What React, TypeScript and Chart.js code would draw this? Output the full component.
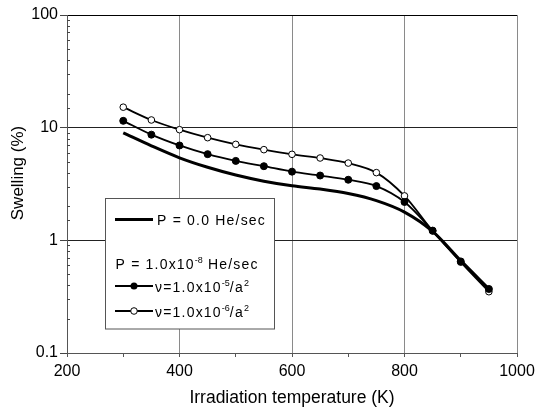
import React, { useEffect, useRef } from 'react';
import { Chart, registerables } from 'chart.js';

Chart.register(...registerables);

// ---------- data ----------
const temperatures = [300, 350, 400, 450, 500, 550, 600, 650, 700, 750, 800, 850, 900, 950];
const swellingP0 = [9.0, 6.9, 5.4, 4.45, 3.8, 3.35, 3.05, 2.85, 2.6, 2.25, 1.78, 1.2, 0.66, 0.37];
const swellingNu5 = [11.5, 8.67, 6.95, 5.82, 5.07, 4.55, 4.07, 3.76, 3.45, 3.03, 2.19, 1.22, 0.65, 0.37];
const swellingNu6 = [15.2, 11.7, 9.6, 8.15, 7.11, 6.38, 5.8, 5.38, 4.85, 3.99, 2.48, 1.21, 0.64, 0.35];
const xTickLabels = [200, 400, 600, 800, 1000];
const yTickLabels = [0.1, 1, 10, 100];
const xGridValues = [400, 600, 800, 1000];
const yGridValues = [1, 10];
const xTitle = 'Irradiation temperature (K)';
const yTitle = 'Swelling (%)';
const legendP0 = [['P = 0.0 He/sec', false]];
const legendP8 = [['P = 1.0x10', false], ['-8', true], [' He/sec', false]];
const legendNu5 = [['\u03BD=1.0x10', false], ['-5', true], ['/a', false], ['2', true]];
const legendNu6 = [['\u03BD=1.0x10', false], ['-6', true], ['/a', false], ['2', true]];

const FONT = '"Liberation Sans", Arial, Helvetica, sans-serif';

const near = (a: number, b: number) => Math.abs(a - b) < 1e-9 * Math.max(1, Math.abs(b));
const isDecade = (v: number) => yTickLabels.some((d) => near(v, d));
const fmtY = (v: number) => (v >= 1 ? String(Math.round(v)) : v.toFixed(1));

function drawRich(ctx: CanvasRenderingContext2D, x: number, baseline: number, segs: any[]) {
  let cx = x;
  for (const [text, sup] of segs) {
    ctx.font = sup ? `9px ${FONT}` : `14px ${FONT}`;
    (ctx as any).letterSpacing = sup ? '0px' : '1.2px';
    ctx.fillText(text, cx, sup ? baseline - 6 : baseline);
    cx += ctx.measureText(text).width;
  }
  (ctx as any).letterSpacing = '0px';
}

const overlayPlugin = {
  id: 'overlay',
  afterDatasetsDraw(chart: any) {
    const ctx: CanvasRenderingContext2D = chart.ctx;
    const ys = chart.scales.y;
    ctx.save();
    ctx.strokeStyle = '#444';
    ctx.lineWidth = 1;
    for (const t of ys.ticks) {
      if (isDecade(t.value)) continue;
      const py = Math.round(ys.getPixelForValue(t.value)) + 0.5;
      ctx.beginPath();
      ctx.moveTo(ys.right, py);
      ctx.lineTo(ys.right + 3, py);
      ctx.stroke();
    }
    ctx.restore();
  },
  afterDraw(chart: any) {
    const ctx: CanvasRenderingContext2D = chart.ctx;
    ctx.save();
    // y axis title
    ctx.fillStyle = '#000';
    ctx.font = `17px ${FONT}`;
    ctx.textAlign = 'center';
    ctx.textBaseline = 'middle';
    ctx.translate(18, 173);
    ctx.rotate(-Math.PI / 2);
    ctx.fillText(yTitle, 0, 0);
    ctx.restore();

    // legend box
    ctx.save();
    ctx.fillStyle = '#fff';
    ctx.fillRect(105.5, 198.5, 169, 130.5);
    ctx.strokeStyle = '#555';
    ctx.lineWidth = 1;
    ctx.strokeRect(105.5, 198.5, 169, 130.5);

    ctx.strokeStyle = '#000';
    // row 1
    ctx.lineWidth = 3;
    ctx.beginPath();
    ctx.moveTo(115, 219.5);
    ctx.lineTo(153, 219.5);
    ctx.stroke();
    // row 3
    ctx.lineWidth = 2;
    ctx.beginPath();
    ctx.moveTo(115, 286);
    ctx.lineTo(153, 286);
    ctx.stroke();
    ctx.beginPath();
    ctx.arc(134, 286, 3.5, 0, Math.PI * 2);
    ctx.fillStyle = '#000';
    ctx.fill();
    // row 4
    ctx.beginPath();
    ctx.moveTo(115, 311);
    ctx.lineTo(153, 311);
    ctx.stroke();
    ctx.beginPath();
    ctx.arc(134, 311, 3.3, 0, Math.PI * 2);
    ctx.fillStyle = '#fff';
    ctx.fill();
    ctx.lineWidth = 1;
    ctx.stroke();

    ctx.fillStyle = '#000';
    ctx.textAlign = 'left';
    ctx.textBaseline = 'alphabetic';
    drawRich(ctx, 157, 224.5, legendP0);
    drawRich(ctx, 115.5, 268.5, legendP8);
    drawRich(ctx, 155, 291.5, legendNu5);
    drawRich(ctx, 155, 316.5, legendNu6);
    ctx.restore();
  },
};

export default function App() {
  const ref = useRef<HTMLCanvasElement | null>(null);
  useEffect(() => {
    if (!ref.current) return;
    const toXY = (arr: number[]) => temperatures.map((t, i) => ({ x: t, y: arr[i] }));
    const chart = new Chart(ref.current, {
      type: 'line',
      data: {
        datasets: [
          {
            label: 'P = 0.0 He/sec',
            data: toXY(swellingP0),
            borderColor: '#000',
            borderWidth: 3,
            pointRadius: 0,
            cubicInterpolationMode: 'monotone',
          },
          {
            label: 'nu=1.0e-5',
            data: toXY(swellingNu5),
            borderColor: '#000',
            borderWidth: 1.8,
            pointRadius: 3.5,
            pointBackgroundColor: '#000',
            pointBorderColor: '#000',
            pointBorderWidth: 1,
            cubicInterpolationMode: 'monotone',
          },
          {
            label: 'nu=1.0e-6',
            data: toXY(swellingNu6),
            borderColor: '#000',
            borderWidth: 1.8,
            pointRadius: 3.3,
            pointBackgroundColor: '#fff',
            pointBorderColor: '#000',
            pointBorderWidth: 1,
            cubicInterpolationMode: 'monotone',
          },
        ],
      } as any,
      options: {
        animation: false,
        responsive: false,
        devicePixelRatio: 1,
        layout: { padding: { top: 15, right: 30, left: 0, bottom: 0 } },
        plugins: { legend: { display: false }, tooltip: { enabled: false }, title: { display: false } },
        scales: {
          x: {
            type: 'linear',
            min: 200,
            max: 1000,
            afterFit: (s: any) => {
              s.height = 56;
            },
            ticks: {
              stepSize: 100,
              autoSkip: false,
              maxRotation: 0,
              padding: 5,
              color: '#000',
              font: { family: FONT, size: 16 },
              callback: (v: any) => (xTickLabels.includes(Number(v)) ? String(v) : ''),
            },
            grid: {
              color: (c: any) => (xGridValues.includes(c.tick?.value) ? '#8a8a8a' : 'rgba(0,0,0,0)'),
              tickColor: '#555',
              tickLength: 4,
              lineWidth: 1,
            },
            border: { display: true, color: '#555', width: 1 },
            title: {
              display: true,
              text: xTitle,
              color: '#000',
              font: { family: FONT, size: 17.5 },
              padding: { top: 0, bottom: 0 },
            },
          },
          y: {
            type: 'logarithmic',
            min: 0.1,
            max: 100,
            afterFit: (s: any) => {
              s.width = 67;
            },
            ticks: {
              autoSkip: false,
              padding: 2,
              color: '#000',
              font: { family: FONT, size: 16 },
              callback: (v: any) => (isDecade(Number(v)) ? fmtY(Number(v)) : ''),
            },
            grid: {
              color: (c: any) => {
                const v = c.tick?.value;
                if (v === undefined) return 'rgba(0,0,0,0)';
                if (near(v, 100)) return '#000';
                if (yGridValues.some((g) => near(v, g))) return '#222';
                return 'rgba(0,0,0,0)';
              },
              tickColor: (c: any) => (c.tick && isDecade(c.tick.value) ? '#444' : 'rgba(0,0,0,0)'),
              tickLength: 7,
              lineWidth: 1,
            },
            border: { display: true, color: '#555', width: 1 },
          },
        },
      } as any,
      plugins: [overlayPlugin],
    });
    return () => chart.destroy();
  }, []);

  return (
    <div style={{ position: 'fixed', left: 0, top: 0, width: 547, height: 409, background: '#fff' }}>
      <canvas ref={ref} width={547} height={409} style={{ display: 'block' }} />
    </div>
  );
}
